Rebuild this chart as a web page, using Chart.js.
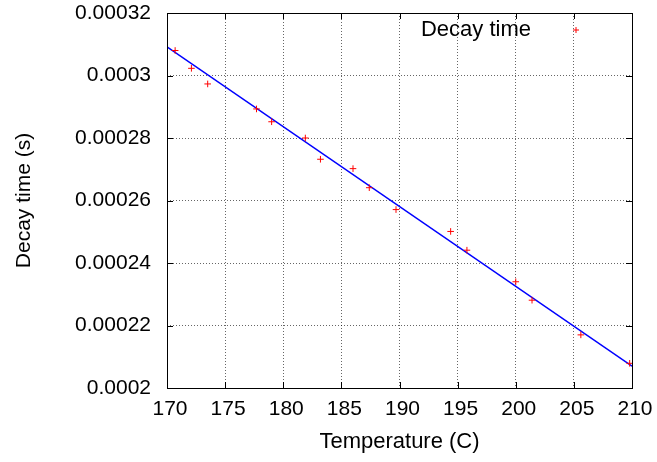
<!DOCTYPE html>
<html>
<head>
<meta charset="utf-8">
<script src="https://cdn.jsdelivr.net/npm/chart.js@4"></script>
<style>
html, body { margin: 0; padding: 0; background: #fff; }
#wrap { width: 657px; height: 462px; }
</style>
</head>
<body>
<div id="wrap"><canvas id="decayChart" width="657" height="462"></canvas></div>
<script>
// measured points
const temperatures = [170.7, 172.1, 173.5, 177.7, 179.0, 181.9, 183.2, 186.0, 187.4, 189.7, 194.4, 195.8, 200.0, 201.4, 205.6, 209.8];
const decayTimes = [0.000308, 0.0003023, 0.0002973, 0.0002893, 0.0002852, 0.00028, 0.0002732, 0.0002702, 0.0002641, 0.0002571, 0.0002501, 0.0002441, 0.000234, 0.0002281, 0.000217, 0.0002079];

// fitted line (end points)
const fitTemps = [170, 210];
const fitTimes = [0.0003092, 0.000207];

const xTicks = [170, 175, 180, 185, 190, 195, 200, 205, 210];
const yTicks = [0.0002, 0.00022, 0.00024, 0.00026, 0.00028, 0.0003, 0.00032];

const FONT = '"Liberation Sans", Arial, Helvetica, sans-serif';

// gnuplot style frame with inward ticks on all sides + key at top right
const gnuFrame = {
    id: 'gnuFrame',
    afterDraw(chart) {
        const ctx = chart.ctx;
        const a = chart.chartArea;
        const xs = chart.scales.x, ys = chart.scales.y;
        const len = 6;
        ctx.save();
        ctx.strokeStyle = '#000';
        ctx.lineWidth = 1;
        ctx.beginPath();
        xTicks.forEach(v => {
            const px = Math.round(xs.getPixelForValue(v)) + 0.5;
            ctx.moveTo(px, a.bottom); ctx.lineTo(px, a.bottom - len);
            ctx.moveTo(px, a.top); ctx.lineTo(px, a.top + len);
        });
        yTicks.forEach(v => {
            const py = Math.round(ys.getPixelForValue(v)) + 0.5;
            ctx.moveTo(a.left, py); ctx.lineTo(a.left + len, py);
            ctx.moveTo(a.right, py); ctx.lineTo(a.right - len, py);
        });
        ctx.stroke();
        ctx.strokeRect(Math.round(a.left) + 0.5, Math.round(a.top) + 0.5,
            Math.round(a.right - a.left), Math.round(a.bottom - a.top));

        // key
        const ds = chart.data.datasets[0];
        const ky = a.top + 17;
        ctx.fillStyle = '#000';
        ctx.font = '22px ' + FONT;
        ctx.textAlign = 'right';
        ctx.textBaseline = 'middle';
        ctx.fillText(ds.label, a.right - 101, ky);
        ctx.strokeStyle = ds.borderColor;
        ctx.beginPath();
        ctx.moveTo(a.right - 59, ky); ctx.lineTo(a.right - 53, ky);
        ctx.moveTo(a.right - 56, ky - 3); ctx.lineTo(a.right - 56, ky + 3);
        ctx.stroke();
        ctx.restore();
    }
};

const config = {
    type: 'scatter',
    data: {
        datasets: [{
            label: 'Decay time',
            data: temperatures.map((t, i) => ({ x: t, y: decayTimes[i] })),
            pointStyle: 'cross',
            pointRadius: 3.3,
            pointHoverRadius: 3.3,
            borderColor: '#ff0000',
            backgroundColor: '#ff0000',
            borderWidth: 1,
            order: 1
        }, {
            type: 'line',
            label: 'fit',
            data: fitTemps.map((t, i) => ({ x: t, y: fitTimes[i] })),
            borderColor: '#0000ff',
            borderWidth: 1.5,
            pointRadius: 0,
            fill: false,
            order: 2
        }]
    },
    options: {
        responsive: false,
        animation: false,
        devicePixelRatio: 1,
        layout: { padding: { top: 13, right: 25, left: 0, bottom: 0 } },
        plugins: {
            legend: { display: false },
            tooltip: { enabled: false }
        },
        scales: {
            x: {
                type: 'linear',
                min: 170,
                max: 210,
                afterBuildTicks: s => { s.ticks = xTicks.map(v => ({ value: v })); },
                afterFit: s => { s.height = 74; s.paddingLeft = 0; s.paddingRight = 0; },
                grid: { color: 'rgba(0,0,0,0.6)', lineWidth: 1, drawTicks: false },
                border: { display: false, dash: [1, 2] },
                ticks: {
                    color: '#000',
                    font: { family: FONT, size: 21 },
                    padding: 9,
                    labelOffset: 3,
                    maxRotation: 0
                },
                title: {
                    display: true,
                    text: 'Temperature (C)',
                    color: '#000',
                    font: { family: FONT, size: 22 },
                    padding: { top: 0, bottom: 7 }
                }
            },
            y: {
                min: 0.0002,
                max: 0.00032,
                afterBuildTicks: s => { s.ticks = yTicks.map(v => ({ value: v })); },
                afterFit: s => { s.width = 167; s.paddingTop = 0; s.paddingBottom = 0; },
                grid: { color: 'rgba(0,0,0,0.6)', lineWidth: 1, drawTicks: false },
                border: { display: false, dash: [1, 2] },
                ticks: {
                    color: '#000',
                    font: { family: FONT, size: 21 },
                    padding: 16,
                    callback: v => String(Number(v.toFixed(6)))
                },
                title: {
                    display: true,
                    text: 'Decay time (s)',
                    color: '#000',
                    font: { family: FONT, size: 21 },
                    padding: { top: 12, bottom: 0 }
                }
            }
        }
    },
    plugins: [gnuFrame]
};

const decayChart = new Chart(document.getElementById('decayChart').getContext('2d'), config);
</script>
</body>
</html>
